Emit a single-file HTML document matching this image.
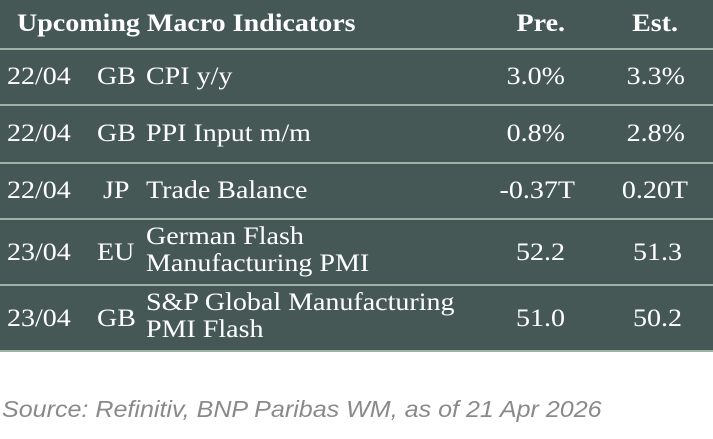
<!DOCTYPE html>
<html><head><style>
body{margin:0;width:713px;height:439px;background:#fff;position:relative;overflow:hidden;font-family:"Liberation Serif",serif;}
.t{position:absolute;left:0;top:0;width:713px;height:351px;background:#465856;}
.l{position:absolute;left:0;width:713px;height:2px;background:#9fb3a4;}
.x{position:absolute;color:#fff;font-size:25px;white-space:nowrap;line-height:27px;transform:scaleX(1.12);transform-origin:left center;}
.b{font-weight:bold;transform:scaleX(1.12);}
.r{text-align:right;transform-origin:right center;}
.src{position:absolute;left:2px;top:396px;font-family:"Liberation Sans",sans-serif;font-style:italic;font-size:23px;color:#8a8a8a;transform:scaleX(1.09);transform-origin:left center;white-space:nowrap;}
</style></head><body>
<div class="t"></div>
<div class="l" style="top:48px"></div>
<div class="l" style="top:104px"></div>
<div class="l" style="top:162px"></div>
<div class="l" style="top:218px"></div>
<div class="l" style="top:284px"></div>
<div class="l" style="top:350px"></div>

<div class="x b" style="left:17px;top:10px">Upcoming Macro Indicators</div>
<div class="x b r" style="left:460px;width:105px;top:10px">Pre.</div>
<div class="x b r" style="left:580px;width:98px;top:10px">Est.</div>

<div class="x" style="left:7px;top:63px">22/04</div><div class="x" style="left:97px;top:63px">GB</div><div class="x" style="left:146px;top:63px">CPI y/y</div>
<div class="x r" style="left:460px;width:105px;top:63px">3.0%</div><div class="x r" style="left:580px;width:105px;top:63px">3.3%</div>

<div class="x" style="left:7px;top:120px">22/04</div><div class="x" style="left:97px;top:120px">GB</div><div class="x" style="left:146px;top:120px">PPI Input m/m</div>
<div class="x r" style="left:460px;width:105px;top:120px">0.8%</div><div class="x r" style="left:580px;width:105px;top:120px">2.8%</div>

<div class="x" style="left:7px;top:177px">22/04</div><div class="x" style="left:103px;top:177px">JP</div><div class="x" style="left:146px;top:177px">Trade Balance</div>
<div class="x r" style="left:460px;width:115px;top:177px">-0.37T</div><div class="x r" style="left:580px;width:108px;top:177px">0.20T</div>

<div class="x" style="left:7px;top:239px">23/04</div><div class="x" style="left:97px;top:239px">EU</div><div class="x" style="left:146px;top:223px">German Flash<br>Manufacturing PMI</div>
<div class="x r" style="left:460px;width:105px;top:239px">52.2</div><div class="x r" style="left:580px;width:102px;top:239px">51.3</div>

<div class="x" style="left:7px;top:305px">23/04</div><div class="x" style="left:97px;top:305px">GB</div><div class="x" style="left:146px;top:289px">S&amp;P Global Manufacturing<br>PMI Flash</div>
<div class="x r" style="left:460px;width:105px;top:305px">51.0</div><div class="x r" style="left:580px;width:102px;top:305px">50.2</div>

<div class="src">Source: Refinitiv, BNP Paribas WM, as of 21 Apr 2026</div>
</body></html>
